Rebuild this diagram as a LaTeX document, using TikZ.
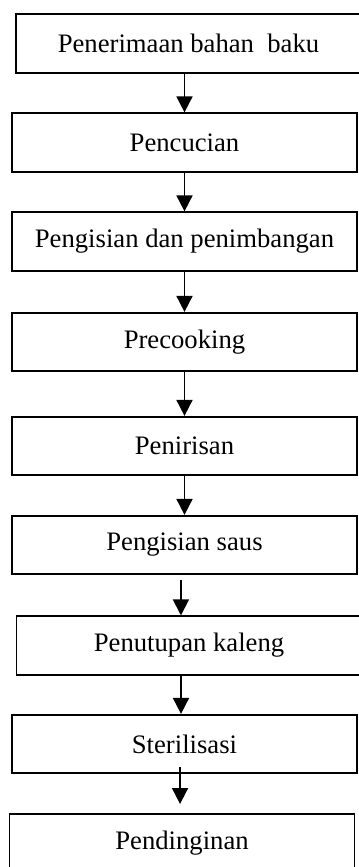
\documentclass[tikz,border=0pt]{standalone}
\usepackage{fontspec}
\setmainfont{Liberation Serif}
\usetikzlibrary{positioning}
\usetikzlibrary{arrows.meta}

\tikzset{
  stepbox/.style={draw, line width=0.8pt, minimum width=155.25pt, minimum height=26.3pt,
    inner sep=0pt, font=\fontsize{12}{14}\selectfont},
  flow/.style={-{Triangle[length=7.2pt,width=7.2pt]}, line width=0.8pt}
}

\begin{document}
\begin{tikzpicture}[x=0.45pt, y=-0.45pt]
        \useasboundingbox (0,0) rectangle (358,867);

        \node[stepbox] (terima) at (188.5,43.5) {Penerimaan bahan\ \ baku};
        \node[stepbox] (cuci) at (184.5,142.5) {Pencucian};
        \node[stepbox] (isi) at (184.5,241.5) {Pengisian dan penimbangan};
        \node[stepbox] (precook) at (184.5,342) {Precooking};
        \node[stepbox] (tiris) at (184.5,446) {Penirisan};
        \node[stepbox] (saus) at (184.5,545) {Pengisian saus};
        \node[stepbox] (tutup) at (189,645.5) {Penutupan kaleng};
        \node[stepbox] (steril) at (184.5,744) {Sterilisasi};
        \node[stepbox] (dingin) at (182,843) {Pendinginan};

        \draw[flow] (terima.south -| cuci.north) -- (cuci.north);
        \draw[flow] (cuci.south) -- (isi.north);
        \draw[flow] (isi.south) -- (precook.north);
        \draw[flow] (precook.south) -- (tiris.north);
        \draw[flow] (tiris.south) -- (saus.north);
        \draw[flow] ([xshift=-1.6pt,yshift=-2.2pt]saus.south) coordinate (a6) -- (a6 |- tutup.north);
        \draw[flow] ([xshift=-3.6pt]tutup.south) coordinate (a7) -- (a7 |- steril.north);
        \draw[flow, shorten >=4pt] ([xshift=-2pt,yshift=3.2pt]steril.south) coordinate (a8) -- (a8 |- dingin.north);
\end{tikzpicture}
\end{document}
